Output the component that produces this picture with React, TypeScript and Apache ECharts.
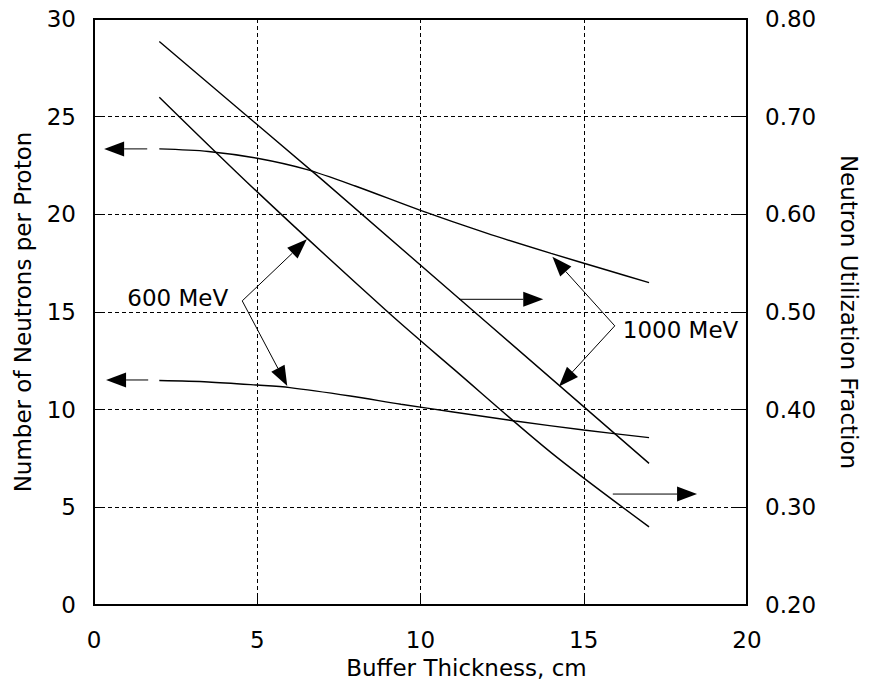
import React, { useEffect, useRef } from "react";
import * as echarts from "echarts";

// ---- data ----
const xTicks = [0, 5, 10, 15, 20];
const leftTicks = [0, 5, 10, 15, 20, 25, 30];
const rightTicks = [0.2, 0.3, 0.4, 0.5, 0.6, 0.7, 0.8];

// Neutrons per proton (left axis)
const n1000X = [2, 3.5, 5, 6.5, 8, 10, 12, 14, 15.7, 17];
const n1000Y = [23.35, 23.22, 22.87, 22.3, 21.45, 20.2, 19.05, 18.0, 17.15, 16.5];
const n600X = [2, 3.5, 5, 6, 7.85, 9.4, 11, 12.9, 15, 17];
const n600Y = [11.49, 11.42, 11.26, 11.13, 10.7, 10.28, 9.88, 9.42, 8.96, 8.57];

// Neutron utilization fraction (right axis)
const u1000X = [2, 7, 12, 17];
const u1000Y = [0.777, 0.635, 0.49, 0.345];
const u600X = [2, 5, 9, 11, 14, 17];
const u600Y = [0.72, 0.623, 0.5, 0.442, 0.356, 0.28];

// Annotation arrows in data units (x, left-axis y)
const axisArrowFrom = [[1.63, 23.35], [1.66, 11.52], [11.18, 15.65], [15.89, 5.68]];
const axisArrowTo = [[0.31, 23.35], [0.37, 11.52], [13.76, 15.65], [18.47, 5.68]];

const labelTexts = ["600 MeV", "1000 MeV"];
const labelVertex = [[4.54, 15.57], [15.95, 14.29]];
const labelTips = [
  [[6.52, 18.72], [5.92, 11.21]],
  [[14.04, 17.83], [14.24, 11.18]],
];

const FONT = "DejaVu Sans";
const FS = 23;

function pairs(xs: number[], ys: number[]) {
  return xs.map((x, i) => [x, ys[i]]);
}

export default function App() {
  const ref = useRef<HTMLDivElement>(null);
  useEffect(() => {
    const chart = echarts.init(ref.current!, null, { renderer: "svg" });
    const lineSeries = (data: number[][], yAxisIndex: number, smooth: number | boolean) => ({
      type: "line",
      data,
      yAxisIndex,
      smooth,
      showSymbol: false,
      symbol: "none",
      lineStyle: { color: "#000", width: 1.4 },
      silent: true,
    });
    const axisText = { color: "#000", fontSize: FS, fontFamily: FONT };
    chart.setOption({
      animation: false,
      backgroundColor: "#fff",
      grid: {
        left: 94,
        right: 124,
        top: 19,
        bottom: 86,
        show: true,
        borderColor: "#000",
        borderWidth: 2,
      },
      xAxis: {
        type: "value",
        min: xTicks[0],
        max: xTicks[xTicks.length - 1],
        interval: 5,
        name: "Buffer Thickness, cm",
        nameLocation: "middle",
        nameGap: 51,
        nameTextStyle: { ...axisText, padding: [0, 0, 0, 92] },
        axisLine: { lineStyle: { color: "#000", width: 2 } },
        axisTick: { inside: true, length: 12, lineStyle: { color: "#000", width: 1 } },
        axisLabel: { ...axisText, margin: 23 },
        splitLine: { show: true, lineStyle: { color: "#000", width: 1, type: [4, 3] } },
      },
      yAxis: [
        {
          type: "value",
          position: "left",
          min: leftTicks[0],
          max: leftTicks[leftTicks.length - 1],
          interval: 5,
          name: "Number of Neutrons per Proton",
          nameLocation: "middle",
          nameGap: 60,
          nameRotate: 90,
          nameTextStyle: { ...axisText },
          axisLine: { show: true, lineStyle: { color: "#000", width: 2 } },
          axisTick: { show: true, inside: true, length: 10, lineStyle: { color: "#000", width: 1 } },
          axisLabel: { ...axisText, margin: 18 },
          splitLine: { show: true, lineStyle: { color: "#000", width: 1, type: [4, 3] } },
        },
        {
          type: "value",
          position: "right",
          min: rightTicks[0],
          max: rightTicks[rightTicks.length - 1],
          interval: 0.1,
          name: "Neutron Utilization Fraction",
          nameLocation: "middle",
          nameGap: 90,
          nameRotate: -90,
          nameTextStyle: { ...axisText },
          axisLine: { show: true, lineStyle: { color: "#000", width: 2 } },
          axisTick: { show: true, inside: true, length: 12, lineStyle: { color: "#000", width: 1 } },
          axisLabel: {
            ...axisText,
            margin: 18,
            formatter: (v: number) => v.toFixed(2),
          },
          splitLine: { show: false },
        },
      ],
      series: [
        lineSeries(pairs(n1000X, n1000Y), 0, 0.3),
        lineSeries(pairs(n600X, n600Y), 0, 0.3),
        lineSeries(pairs(u1000X, u1000Y), 1, false),
        lineSeries(pairs(u600X, u600Y), 1, 0.3),
      ],
    });

    const px = (p: number[]) =>
      chart.convertToPixel({ xAxisIndex: 0, yAxisIndex: 0 }, p) as number[];
    const els: any[] = [];
    const arrow = (from: number[], to: number[], L = 20, W = 15) => {
      const a = px(from);
      const b = px(to);
      const dx = b[0] - a[0];
      const dy = b[1] - a[1];
      const len = Math.hypot(dx, dy);
      const ux = dx / len;
      const uy = dy / len;
      const bx = b[0] - ux * L;
      const by = b[1] - uy * L;
      els.push({
        type: "line",
        silent: true,
        shape: { x1: a[0], y1: a[1], x2: bx, y2: by },
        style: { stroke: "#000", lineWidth: 1 },
      });
      els.push({
        type: "polygon",
        silent: true,
        shape: {
          points: [
            [b[0], b[1]],
            [bx - (uy * W) / 2, by + (ux * W) / 2],
            [bx + (uy * W) / 2, by - (ux * W) / 2],
          ],
        },
        style: { fill: "#000" },
      });
    };
    axisArrowFrom.forEach((f, i) => arrow(f, axisArrowTo[i]));
    labelVertex.forEach((v, i) => {
      labelTips[i].forEach((t) => arrow(v, t));
      const p = px(v);
      const right = i === 0;
      els.push({
        type: "text",
        silent: true,
        x: right ? p[0] - 14 : p[0] + 8,
        y: right ? p[1] - 3 : p[1] + 4,
        style: {
          text: labelTexts[i],
          fontSize: FS,
          fontFamily: FONT,
          fill: "#000",
          align: right ? "right" : "left",
          verticalAlign: "middle",
        },
      });
    });
    chart.setOption({ graphic: els });

    return () => chart.dispose();
  }, []);
  return (
    <div
      ref={ref}
      style={{ position: "absolute", left: 0, top: 0, width: 871, height: 691 }}
    />
  );
}
